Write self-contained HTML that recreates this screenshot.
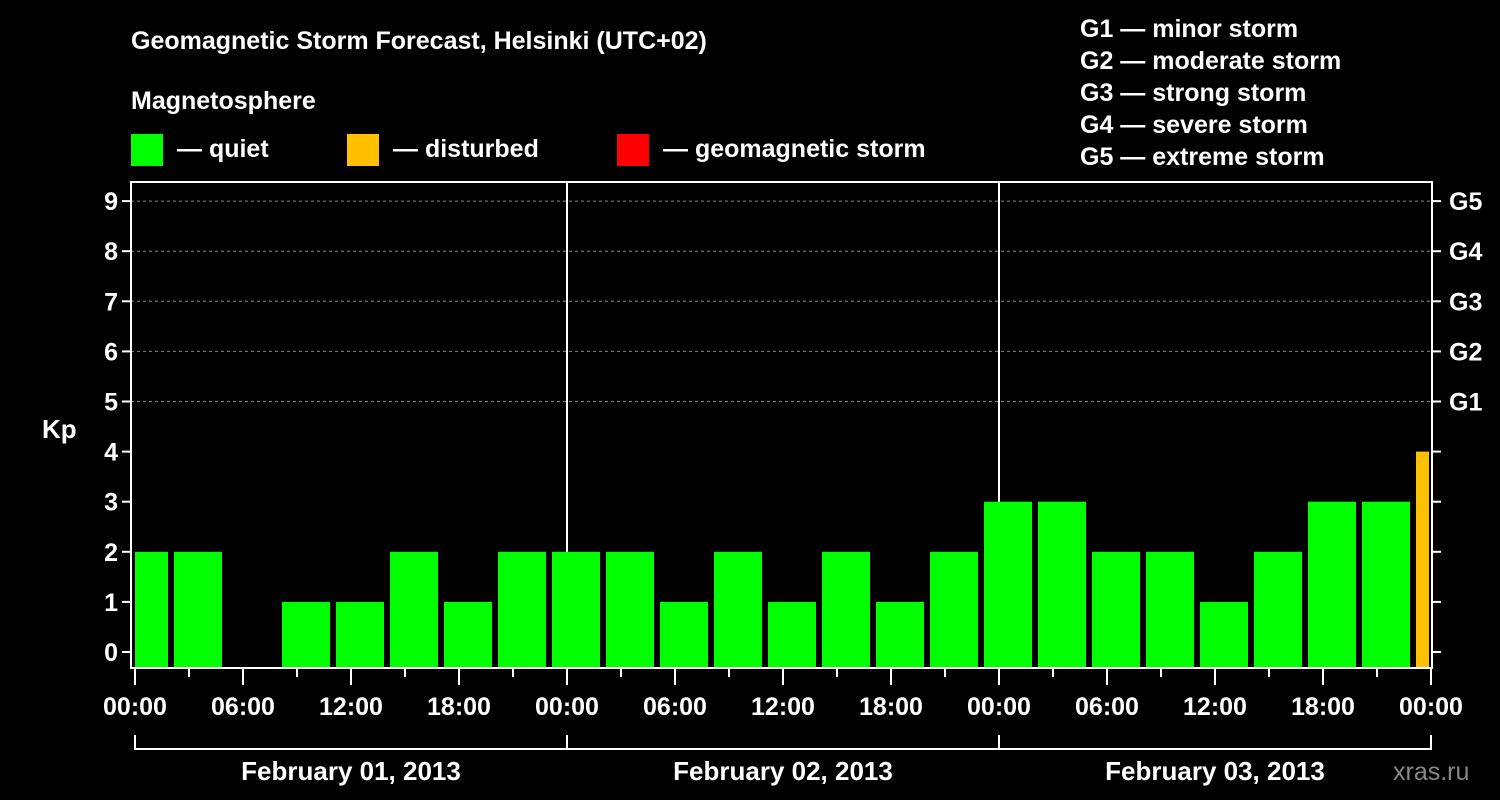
<!DOCTYPE html>
<html><head><meta charset="utf-8"><style>
html,body{margin:0;padding:0;background:#000;}
svg{display:block;font-family:"Liberation Sans",Arial,sans-serif;font-weight:bold;}
</style></head><body>
<svg id="chart" width="1500" height="800" viewBox="0 0 1500 800">
<rect width="1500" height="800" fill="#000"/>
<text x="131" y="49" fill="#fff" font-size="25">Geomagnetic Storm Forecast, Helsinki (UTC+02)</text>
<text x="131" y="109" fill="#fff" font-size="25">Magnetosphere</text>
<g><rect x="131" y="134" width="32" height="32" fill="#00ff00"/><text x="177" y="157" fill="#fff" font-size="25">— quiet</text></g>
<g><rect x="347" y="134" width="32" height="32" fill="#ffc000"/><text x="393" y="157" fill="#fff" font-size="25">— disturbed</text></g>
<g><rect x="617" y="134" width="32" height="32" fill="#ff0000"/><text x="663" y="157" fill="#fff" font-size="25">— geomagnetic storm</text></g>
<g fill="#fff" font-size="25">
<text x="1080" y="37">G1 — minor storm</text>
<text x="1080" y="69">G2 — moderate storm</text>
<text x="1080" y="101">G3 — strong storm</text>
<text x="1080" y="133">G4 — severe storm</text>
<text x="1080" y="165">G5 — extreme storm</text>
</g>
<text x="42" y="438" fill="#fff" font-size="26">Kp</text>
<text x="1393" y="780" fill="#888" font-size="25" font-weight="normal">xras.ru</text>
<g id="grid"></g><g id="bars"></g><g id="axes"></g>
</svg>
<script>
const kpValues=[2,2,null,1,1,2,1,2, 2,2,1,2,1,2,1,2, 3,3,2,2,1,2,3,3, 4];
const kpTicks=[0,1,2,3,4,5,6,7,8,9];
const gLabels=["G1","G2","G3","G4","G5"];
const dayLabels=["February 01, 2013","February 02, 2013","February 03, 2013"];
const hourLabels=["00:00","06:00","12:00","18:00"];
const slotStartHour=-1, slotHours=3, totalHours=72;
const X0=135, PX_H=18, L=131, R=1432, T=182, B=668;
const xs=h=>X0+h*PX_H;
const ys=v=>652-v*50.1;
const NS="http://www.w3.org/2000/svg";
function mk(parent,tag,attrs){const e=document.createElementNS(NS,tag);for(const k in attrs)e.setAttribute(k,attrs[k]);document.getElementById(parent).appendChild(e);return e;}
// grid
kpTicks.forEach(v=>{
  if(v>=5){const l=mk('grid','line',{x1:L,x2:R,y1:ys(v),y2:ys(v),stroke:'#888','stroke-dasharray':'3,3','stroke-width':1});
  
  }
  const t1=mk('axes','line',{x1:L-9,x2:L,y1:ys(v),y2:ys(v),stroke:'#fff','stroke-width':2});
  
  
  const t2=mk('axes','line',{x1:R,x2:R+9,y1:ys(v),y2:ys(v),stroke:'#fff','stroke-width':2});
  
  
  const tx=mk('axes','text',{x:L-13,y:ys(v)+9,fill:'#fff','font-size':25,'text-anchor':'end'});
  tx.textContent=v;
  
  
});
gLabels.forEach((g,i)=>{
  const tx=mk('axes','text',{x:R+17,y:ys(5+i)+9,fill:'#fff','font-size':25});
  tx.textContent=g;
  
  
});
// day separators
[1,2].forEach(d=>{
  const l=mk('grid','line',{x1:xs(24*d),x2:xs(24*d),y1:T,y2:B,stroke:'#fff','stroke-width':2});
  
  
});
// bars
kpValues.forEach((v,i)=>{
  if(v===null)return;
  let x1=xs(slotStartHour+i*slotHours)+3, x2=xs(slotStartHour+(i+1)*slotHours)-3;
  x1=Math.max(x1,L+4); x2=Math.min(x2,R-3);
  const col=v>=5?'#ff0000':(v>=4?'#ffc000':'#00ff00');
  const r=mk('bars','rect',{x:x1,y:ys(v),width:x2-x1,height:B-ys(v),fill:col});
  
  
});
// frame
const fr=mk('axes','rect',{x:L,y:T,width:R-L,height:B-T,fill:'none',stroke:'#fff','stroke-width':2});


// x ticks
for(let h=0;h<=totalHours;h+=3){
  const major=h%6===0;
  const l=mk('axes','line',{x1:xs(h),x2:xs(h),y1:B,y2:B+(major?17:9),stroke:'#fff','stroke-width':2});
  
  
  if(major){
    const tx=mk('axes','text',{x:xs(h),y:715,fill:'#fff','font-size':25,'text-anchor':'middle'});
    tx.textContent=hourLabels[(h/6)%4];
    
    
  }
}
// day brackets
dayLabels.forEach((d,i)=>{
  const a=xs(24*i), b=xs(24*(i+1));
  const p=mk('axes','path',{d:`M${a} 735 V749 H${b} V735`,fill:'none',stroke:'#fff','stroke-width':2});
  
  
  const tx=mk('axes','text',{x:(a+b)/2,y:780,fill:'#fff','font-size':26,'text-anchor':'middle'});
  tx.textContent=d;
  
  
});
</script>
</body></html>
